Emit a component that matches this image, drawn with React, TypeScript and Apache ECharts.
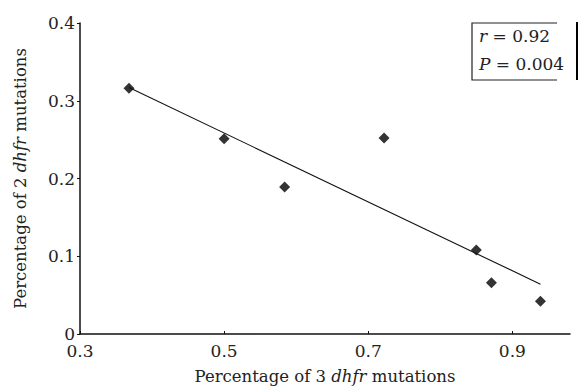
import React, { useEffect, useRef } from "react";
import * as echarts from "echarts";

const threeMut: number[] = [0.368, 0.5, 0.584, 0.722, 0.85, 0.871, 0.939];
const twoMut: number[] = [0.316, 0.251, 0.189, 0.252, 0.108, 0.066, 0.042];
const fitX: number[] = [0.368, 0.939];
const fitY: number[] = [0.317, 0.064];
const xTicks: number[] = [0.3, 0.5, 0.7, 0.9];
const yTicks: number[] = [0, 0.1, 0.2, 0.3, 0.4];
const statR = "0.92";
const statP = "0.004";

const FONT = "'DejaVu Serif', 'Liberation Serif', serif";

export default function App() {
  const ref = useRef<HTMLDivElement>(null);
  useEffect(() => {
    if (!ref.current) return;
    const chart = echarts.init(ref.current, undefined, { renderer: "svg" });
    const pts = threeMut.map((x, i) => [x, twoMut[i]]);
    const fit = fitX.map((x, i) => [x, fitY[i]]);
    const rich = {
      n: { fontFamily: FONT, fontSize: 16.5, color: "#222" },
      i: { fontFamily: FONT, fontSize: 16.5, color: "#222", fontStyle: "italic" },
    };
    const richG = {
      n: { fontFamily: FONT, fontSize: 17, fill: "#222" },
      i: { fontFamily: FONT, fontSize: 17, fill: "#222", fontStyle: "italic" },
    };
    chart.setOption({
      animation: false,
      backgroundColor: "#fff",
      grid: { left: 80, right: 13, top: 23, bottom: 53, containLabel: false, outerBoundsMode: "none" },
      xAxis: {
        type: "value",
        min: 0.3,
        max: 0.98,
        splitLine: { show: false },
        axisLine: { show: true, onZero: false, lineStyle: { color: "#111", width: 1.5 } },
        axisTick: { show: true, inside: true, length: 3, customValues: xTicks, lineStyle: { color: "#111" } },
        axisLabel: {
          customValues: xTicks,
          formatter: (v: number) => String(Number(v.toFixed(2))),
          color: "#222",
          fontFamily: FONT,
          fontSize: 17,
          lineHeight: 14,
          margin: 10,
        },
        name: "{n|Percentage of 3 }{i|dhfr}{n| mutations}",
        nameLocation: "middle",
        nameGap: 34,
        nameTextStyle: { fontFamily: FONT, fontSize: 16.5, rich },
      },
      yAxis: {
        type: "value",
        min: 0,
        max: 0.4,
        splitLine: { show: false },
        axisLine: { show: true, lineStyle: { color: "#111", width: 1.5 } },
        axisTick: { show: true, length: 3, customValues: yTicks, lineStyle: { color: "#111" } },
        axisLabel: {
          customValues: yTicks,
          formatter: (v: number) => String(Number(v.toFixed(2))),
          color: "#222",
          fontFamily: FONT,
          fontSize: 17,
          lineHeight: 14,
          margin: 5,
        },
        name: "{n|Percentage of 2 }{i|dhfr}{n| mutations}",
        nameLocation: "middle",
        nameGap: 51,
        nameRotate: 90,
        nameTextStyle: { fontFamily: FONT, fontSize: 16.5, rich },
      },
      series: [
        {
          type: "line",
          data: fit,
          symbol: "none",
          lineStyle: { color: "#111", width: 1.1 },
          silent: true,
        },
        {
          type: "scatter",
          data: pts,
          symbol: "diamond",
          symbolSize: [11, 11],
          itemStyle: { color: "#000" },
        },
      ],
      graphic: [
        {
          type: "polyline",
          shape: { points: [[557, 23], [472, 23], [472, 80], [557, 80]] },
          style: { stroke: "#222", lineWidth: 1.2, fill: "none" },
        },
        {
          type: "line",
          shape: { x1: 577, y1: 22, x2: 577, y2: 80 },
          style: { stroke: "#000", lineWidth: 2 },
        },
        {
          type: "text",
          x: 479,
          y: 27,
          style: { text: "{i|r}{n| = " + statR + "}", rich: richG },
        },
        {
          type: "text",
          x: 479,
          y: 55,
          style: { text: "{i|P}{n| = " + statP + "}", rich: richG },
        },
      ],
    });
    return () => chart.dispose();
  }, []);
  return <div ref={ref} style={{ width: 583, height: 387, position: "absolute", left: 0, top: 0 }} />;
}
